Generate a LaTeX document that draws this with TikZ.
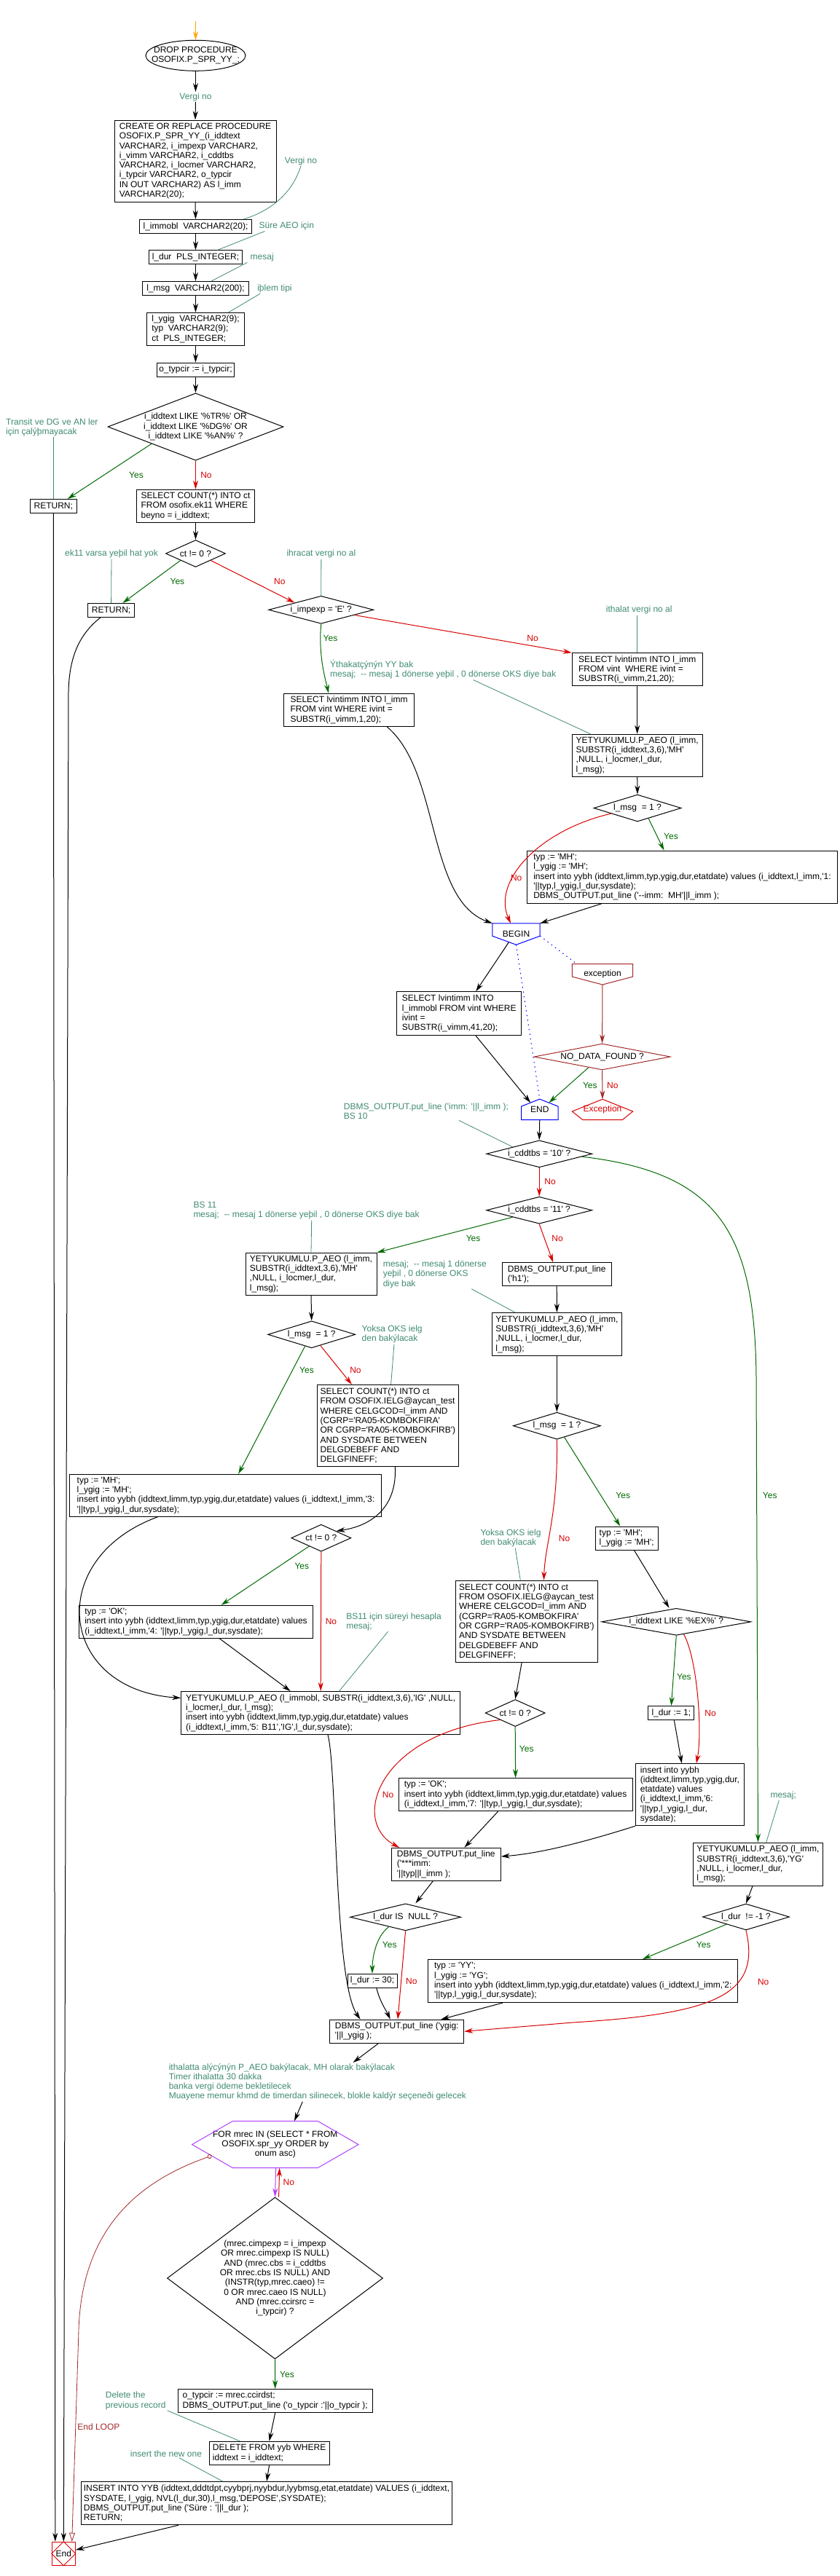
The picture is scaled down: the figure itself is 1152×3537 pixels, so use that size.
\documentclass[tikz,border=0pt]{standalone}
\usepackage{fontspec}
\setmainfont{Liberation Sans}[Ligatures=TeXOff]
\usepackage{xcolor}
\usepackage{tikz}
\usetikzlibrary{shapes,arrows.meta,calc}

\definecolor{cmt}{RGB}{64,140,112}
\definecolor{yesc}{RGB}{0,105,0}
\definecolor{noc}{RGB}{215,0,0}
\definecolor{exc}{RGB}{165,42,42}
\definecolor{loopc}{RGB}{176,64,255}
\definecolor{startc}{RGB}{255,165,0}

\begin{document}
\begin{tikzpicture}[
    x=1pt, y=-1pt,
    font=\fontsize{12pt}{13.3pt}\selectfont,
    box/.style={rectangle, draw, line width=1pt, align=left, inner sep=3pt},
    dec/.style={diamond, draw, line width=1pt, align=center, inner sep=0pt},
    note/.style={text=cmt, align=left, inner sep=1pt},
    yeslbl/.style={text=yesc, inner sep=0pt},
    nolbl/.style={text=noc, inner sep=0pt},
    arrow/.style={-{Stealth[length=12pt,width=7pt]}, line width=1pt},
    yesarrow/.style={arrow, draw=yesc},
    noarrow/.style={arrow, draw=noc},
    link/.style={draw=cmt, line width=0.8pt},
    dots/.style={draw=blue, line width=1pt, dash pattern=on 1.5pt off 5pt}
]
    \fill [white] (0,0) rectangle (1152,3537);
    \useasboundingbox (0,0) rectangle (1152,3537);

    \coordinate (s0) at (268.5,28.6);
    \node [align=center, inner sep=0pt, minimum width=137pt, minimum height=42pt] (n0) at (268.5,76.3) {DROP PROCEDURE\\OSOFIX.P\_SPR\_YY\_;};
    \draw [line width=1pt] (n0.center) ellipse [x radius=68.5, y radius=21];
    \node [note, align=center] (c1) at (268.5,133) {Vergi no};
    \node [box, minimum width=222pt, minimum height=112pt] (n1) at (268,221) {CREATE OR REPLACE PROCEDURE\\OSOFIX.P\_SPR\_YY\_(i\_iddtext\\VARCHAR2, i\_impexp VARCHAR2,\\i\_vimm VARCHAR2, i\_cddtbs\\VARCHAR2, i\_locmer VARCHAR2,\\i\_typcir VARCHAR2, o\_typcir\\IN OUT VARCHAR2) AS l\_imm\\VARCHAR2(20);};
    \node [box, minimum width=154pt, minimum height=19pt] (n2) at (268.5,311) {l\_immobl\ \ VARCHAR2(20);};
    \node [box, minimum width=128pt, minimum height=19pt] (n3) at (268.5,353.3) {l\_dur\ \ PLS\_INTEGER;};
    \node [box, minimum width=146pt, minimum height=19pt] (n4) at (268.5,396) {l\_msg\ \ VARCHAR2(200);};
    \node [box, minimum width=134pt, minimum height=45pt] (n5) at (268.5,451.8) {l\_ygig\ \ VARCHAR2(9);\\typ\ \ VARCHAR2(9);\\ct\ \ PLS\_INTEGER;};
    \node [box, minimum width=106pt, minimum height=19pt] (n6) at (268.5,507.7) {o\_typcir := i\_typcir;};
    \node [dec, aspect=2.61, minimum width=240pt, minimum height=92pt] (n7) at (268.5,586) {i\_iddtext LIKE '\%TR\%' OR\\i\_iddtext LIKE '\%DG\%' OR\\i\_iddtext LIKE '\%AN\%' ?};
    \node [box, minimum width=64pt, minimum height=19pt] (n8) at (73.3,695) {RETURN;};
    \node [box, minimum width=162pt, minimum height=45pt] (n9) at (268.5,694.8) {SELECT COUNT(*) INTO ct\\FROM osofix.ek11 WHERE\\beyno = i\_iddtext;};
    \node [dec, aspect=2.2, minimum width=82pt, minimum height=37pt] (n10) at (268.5,760) {ct != 0 ?};
    \node [box, minimum width=64pt, minimum height=19pt] (n11) at (152.6,838) {RETURN;};
    \node [dec, aspect=3.79, minimum width=144pt, minimum height=38pt] (n12) at (440.7,837.3) {i\_impexp = 'E' ?};
    \node [box, minimum width=179pt, minimum height=45pt] (n13) at (874.7,919.2) {SELECT lvintimm INTO l\_imm\\FROM vint\ \ WHERE ivint =\\SUBSTR(i\_vimm,21,20);};
    \node [box, minimum width=179pt, minimum height=45pt] (n14) at (479.1,974.8) {SELECT lvintimm INTO l\_imm\\FROM vint WHERE ivint =\\SUBSTR(i\_vimm,1,20);};
    \node [box, minimum width=179pt, minimum height=58pt] (n15) at (874.7,1037.2) {YETYUKUMLU.P\_AEO (l\_imm,\\SUBSTR(i\_iddtext,3,6),'MH'\\,NULL, i\_locmer,l\_dur,\\l\_msg);};
    \node [dec, aspect=3.24, minimum width=120pt, minimum height=37pt] (n16) at (875,1109.5) {l\_msg\ \ = 1 ?};
    \node [box, minimum width=426pt, minimum height=72pt] (n17) at (936.5,1204.2) {typ := 'MH';\\l\_ygig := 'MH';\\insert into yybh (iddtext,limm,typ,ygig,dur,etatdate) values (i\_iddtext,l\_imm,'1:\\'||typ,l\_ygig,l\_dur,sysdate);\\DBMS\_OUTPUT.put\_line ('--imm:\ \ MH'||l\_imm );};
    \node [inner sep=0pt, minimum width=65pt, minimum height=29pt] (n18) at (708.5,1282.5) {BEGIN};
    \draw [blue, line width=1pt] (n18.north west) -- (n18.north east) -- ($(n18.south east)+(0,-12)$) -- (n18.south) -- ($(n18.south west)+(0,-12)$) -- cycle;
    \node [box, minimum width=171pt, minimum height=60pt] (n19) at (630.2,1391.7) {SELECT lvintimm INTO\\l\_immobl FROM vint WHERE\\ivint =\\SUBSTR(i\_vimm,41,20);};
    \node [inner sep=0pt, minimum width=83pt, minimum height=28pt] (n20) at (827,1337.8) {exception};
    \draw [exc, line width=1pt] (n20.north west) -- (n20.north east) -- ($(n20.south east)+(0,-11)$) -- (n20.south) -- ($(n20.south west)+(0,-11)$) -- cycle;
    \node [dec, draw=exc, aspect=5.2, minimum width=187pt, minimum height=36pt] (n21) at (826.6,1451) {NO\_DATA\_FOUND ?};
    \node [inner sep=0pt, minimum width=50pt, minimum height=28pt] (n22) at (740.8,1523.3) {END};
    \draw [blue, line width=1pt] (n22.north) -- ($(n22.north east)+(0,10)$) -- (n22.south east) -- (n22.south west) -- ($(n22.north west)+(0,10)$) -- cycle;
    \node [inner sep=0pt, text=noc, minimum width=83pt, minimum height=28pt] (n23) at (827,1523.5) {Exception};
    \draw [noc, line width=1pt] (n23.north) -- ($(n23.north east)+(0,16.7)$) -- ($(n23.south east)+(-14.5,0)$) -- ($(n23.south west)+(14.7,0)$) -- ($(n23.north west)+(0,16.7)$) -- cycle;
    \node [dec, aspect=3.92, minimum width=145pt, minimum height=37pt] (n24) at (740.2,1584.3) {i\_cddtbs = '10' ?};
    \node [dec, aspect=3.92, minimum width=145pt, minimum height=37pt] (n25) at (740.2,1661.7) {i\_cddtbs = '11' ?};
    \node [box, minimum width=180pt, minimum height=58pt] (n26) at (427,1749.2) {YETYUKUMLU.P\_AEO (l\_imm,\\SUBSTR(i\_iddtext,3,6),'MH'\\,NULL, i\_locmer,l\_dur,\\l\_msg);};
    \node [box, minimum width=150pt, minimum height=32pt] (n27) at (764.2,1749.7) {DBMS\_OUTPUT.put\_line\\('h1');};
    \node [box, minimum width=178pt, minimum height=59pt] (n28) at (764.4,1832) {YETYUKUMLU.P\_AEO (l\_imm,\\SUBSTR(i\_iddtext,3,6),'MH'\\,NULL, i\_locmer,l\_dur,\\l\_msg);};
    \node [dec, aspect=3.24, minimum width=120pt, minimum height=37pt] (n29) at (427.7,1832.3) {l\_msg\ \ = 1 ?};
    \node [box, minimum width=194pt, minimum height=112pt] (n30) at (532.4,1957.5) {SELECT COUNT(*) INTO ct\\FROM OSOFIX.IELG@aycan\_test\\WHERE CELGCOD=l\_imm AND\\(CGRP='RA05-KOMBOKFIRA'\\OR CGRP='RA05-KOMBOKFIRB')\\AND SYSDATE BETWEEN\\DELGDEBEFF AND\\DELGFINEFF;};
    \node [dec, aspect=3.24, minimum width=120pt, minimum height=37pt] (n31) at (764.4,1957.7) {l\_msg\ \ = 1 ?};
    \node [box, minimum width=428pt, minimum height=58pt] (n32) at (309.9,2053.3) {typ := 'MH';\\l\_ygig := 'MH';\\insert into yybh (iddtext,limm,typ,ygig,dur,etatdate) values (i\_iddtext,l\_imm,'3:\\'||typ,l\_ygig,l\_dur,sysdate);};
    \node [dec, aspect=2.2, minimum width=82pt, minimum height=37pt] (n33) at (440.8,2111.7) {ct != 0 ?};
    \node [box, minimum width=86pt, minimum height=32pt] (n34) at (860.2,2112.1) {typ := 'MH';\\l\_ygig := 'MH';};
    \node [box, minimum width=195pt, minimum height=112pt] (n35) at (722.9,2226.2) {SELECT COUNT(*) INTO ct\\FROM OSOFIX.IELG@aycan\_test\\WHERE CELGCOD=l\_imm AND\\(CGRP='RA05-KOMBOKFIRA'\\OR CGRP='RA05-KOMBOKFIRB')\\AND SYSDATE BETWEEN\\DELGDEBEFF AND\\DELGFINEFF;};
    \node [dec, aspect=5.54, minimum width=205pt, minimum height=37pt] (n36) at (928.3,2226.8) {i\_iddtext LIKE '\%EX\%' ?};
    \node [box, minimum width=321pt, minimum height=45pt] (n37) at (269,2226.8) {typ := 'OK';\\insert into yybh (iddtext,limm,typ,ygig,dur,etatdate) values\\(i\_iddtext,l\_imm,'4: '||typ,l\_ygig,l\_dur,sysdate);};
    \node [box, minimum width=383pt, minimum height=59pt] (n38) at (440.2,2352) {YETYUKUMLU.P\_AEO (l\_immobl, SUBSTR(i\_iddtext,3,6),'IG' ,NULL,\\i\_locmer,l\_dur, l\_msg);\\insert into yybh (iddtext,limm,typ,ygig,dur,etatdate) values\\(i\_iddtext,l\_imm,'5: B11','IG',l\_dur,sysdate);};
    \node [dec, aspect=2.2, minimum width=82pt, minimum height=37pt] (n39) at (707.2,2352) {ct != 0 ?};
    \node [box, minimum width=63pt, minimum height=19pt] (n40) at (921.4,2352.2) {l\_dur := 1;};
    \node [box, minimum width=149pt, minimum height=85pt] (n41) at (947,2464.2) {insert into yybh\\(iddtext,limm,typ,ygig,dur,\\etatdate) values\\(i\_iddtext,l\_imm,'6:\\'||typ,l\_ygig,l\_dur,\\sysdate);};
    \node [box, minimum width=321pt, minimum height=45pt] (n42) at (707.6,2464.2) {typ := 'OK';\\insert into yybh (iddtext,limm,typ,ygig,dur,etatdate) values\\(i\_iddtext,l\_imm,'7: '||typ,l\_ygig,l\_dur,sysdate);};
    \node [box, minimum width=178pt, minimum height=59pt] (n43) at (1040.5,2559.7) {YETYUKUMLU.P\_AEO (l\_imm,\\SUBSTR(i\_iddtext,3,6),'YG'\\,NULL, i\_locmer,l\_dur,\\l\_msg);};
    \node [box, minimum width=150pt, minimum height=45pt] (n44) at (612.3,2559.8) {DBMS\_OUTPUT.put\_line\\('***imm:\\'||typ||l\_imm );};
    \node [dec, aspect=3.3, minimum width=119pt, minimum height=36pt] (n45) at (1024,2632) {l\_dur\ \ != -1 ?};
    \node [dec, aspect=4.1, minimum width=152pt, minimum height=37pt] (n46) at (556.6,2632.3) {l\_dur IS\ \ NULL ?};
    \node [box, minimum width=425pt, minimum height=59pt] (n47) at (800.3,2720) {typ := 'YY';\\l\_ygig := 'YG';\\insert into yybh (iddtext,limm,typ,ygig,dur,etatdate) values (i\_iddtext,l\_imm,'2:\\'||typ,l\_ygig,l\_dur,sysdate);};
    \node [box, minimum width=68pt, minimum height=19pt] (n48) at (511,2719.7) {l\_dur := 30;};
    \node [box, minimum width=184pt, minimum height=32pt] (n49) at (544.7,2789.2) {DBMS\_OUTPUT.put\_line ('ygig:\\'||l\_ygig );};
    \node [note, anchor=north west] (c18) at (230.6,2832) {ithalatta alýcýnýn P\_AEO bakýlacak, MH olarak bakýlacak\\Timer ithalatta 30 dakka\\banka vergi ödeme bekletilecek\\Muayene memur khmd de timerdan silinecek, blokle kaldýr seçeneði gelecek};
    \node [align=center, inner sep=0pt, minimum width=228pt, minimum height=64pt] (n51) at (377.8,2944.5) {FOR mrec IN (SELECT * FROM\\OSOFIX.spr\_yy ORDER by\\onum asc)};
    \draw [loopc, line width=1pt] (n51.west) -- ($(n51.north west)+(56,0)$) -- ($(n51.north east)+(-56,0)$) -- (n51.east) -- ($(n51.south east)+(-56,0)$) -- ($(n51.south west)+(56,0)$) -- cycle;
    \node [dec, aspect=1.333, minimum width=296pt, minimum height=222pt] (n52) at (377.5,3128) {(mrec.cimpexp = i\_impexp\\OR mrec.cimpexp IS NULL)\\AND (mrec.cbs = i\_cddtbs\\OR mrec.cbs IS NULL) AND\\(INSTR(typ,mrec.caeo) !=\\0 OR mrec.caeo IS NULL)\\AND (mrec.ccirsrc =\\i\_typcir) ?};
    \node [box, minimum width=267pt, minimum height=32pt] (n53) at (377.7,3296.5) {o\_typcir := mrec.ccirdst;\\DBMS\_OUTPUT.put\_line ('o\_typcir :'||o\_typcir );};
    \node [box, minimum width=165pt, minimum height=32pt] (n54) at (369.6,3368.3) {DELETE FROM yyb WHERE\\iddtext = i\_iddtext;};
    \node [box, minimum width=509pt, minimum height=59pt] (n55) at (366,3437.2) {INSERT INTO YYB (iddtext,dddtdpt,cyybprj,nyybdur,lyybmsg,etat,etatdate) VALUES (i\_iddtext,\\SYSDATE, l\_ygig, NVL(l\_dur,30),l\_msg,'DEPOSE',SYSDATE);\\DBMS\_OUTPUT.put\_line ('Süre : '||l\_dur );\\RETURN;};
    \node [draw=noc, line width=1pt, inner sep=0pt, minimum width=32pt, minimum height=32pt] (n56) at (87.3,3506.2) {End};
    \draw [noc, line width=0.8pt] (n56.north) -- (n56.east) -- (n56.south) -- (n56.west) -- cycle;

    \node [note, align=center] (c2) at (413,221) {Vergi no};
    \node [note, align=center] (c3) at (393.4,310.7) {Süre AEO için};
    \node [note, align=center] (c4) at (359.7,353.6) {mesaj};
    \node [note, align=center] (c5) at (377,396.4) {iþlem tipi};
    \node [note, anchor=west] (c6) at (7,587) {Transit ve DG ve AN ler\\için çalýþmayacak};
    \node [note, align=center] (c7) at (153,760.7) {ek11 varsa yeþil hat yok};
    \node [note, align=center] (c8) at (440.9,760.7) {ihracat vergi no al};
    \node [note, anchor=west] (c9) at (452,919.2) {Ýthakatçýnýn YY bak\\mesaj;\ \ -- mesaj 1 dönerse yeþil , 0 dönerse OKS diye bak};
    \node [note, align=center] (c10) at (877.2,837.7) {ithalat vergi no al};
    \node [note, anchor=west] (c11) at (470.7,1526) {DBMS\_OUTPUT.put\_line ('imm: '||l\_imm );\\BS 10};
    \node [note, anchor=west] (c12) at (264.3,1662) {BS 11\\mesaj;\ \ -- mesaj 1 dönerse yeþil , 0 dönerse OKS diye bak};
    \node [note, anchor=west] (c13) at (524.6,1749.7) {mesaj;\ \ -- mesaj 1 dönerse\\yeþil , 0 dönerse OKS\\diye bak};
    \node [note, anchor=west] (c14) at (495.5,1832.2) {Yoksa OKS ielg\\den bakýlacak};
    \node [note, anchor=west] (c15) at (658.3,2112.2) {Yoksa OKS ielg\\den bakýlacak};
    \node [note, anchor=west] (c16) at (474.1,2226.7) {BS11 için süreyi hesapla\\mesaj;};
    \node [note, align=center] (c17) at (1075.2,2465) {mesaj;};
    \node [note, anchor=west] (c19) at (143.7,3296.3) {Delete the\\previous record};
    \node [note, anchor=west] (c20) at (177.7,3369) {insert the new one};

    \node [yeslbl] (y1) at (187,652.7) {Yes};
    \node [nolbl] (r1) at (283,652.7) {No};
    \node [yeslbl] (y2) at (243.4,798.3) {Yes};
    \node [nolbl] (r2) at (383.9,798.3) {No};
    \node [yeslbl] (y3) at (453.5,876.7) {Yes};
    \node [nolbl] (r3) at (731,876.7) {No};
    \node [yeslbl] (y4) at (921,1148.3) {Yes};
    \node [nolbl] (r4) at (708.7,1205) {No};
    \node [yeslbl] (y5) at (809.8,1490) {Yes};
    \node [nolbl] (r5) at (840.8,1490) {No};
    \node [nolbl] (r6) at (755,1622.7) {No};
    \node [yeslbl] (y6) at (1056.7,2053.2) {Yes};
    \node [yeslbl] (y7) at (649.6,1700.7) {Yes};
    \node [nolbl] (r7) at (765,1700.7) {No};
    \node [yeslbl] (y8) at (421,1881.7) {Yes};
    \node [nolbl] (r8) at (488,1881.7) {No};
    \node [yeslbl] (y9) at (855.2,2053.2) {Yes};
    \node [nolbl] (r9) at (774.6,2112.9) {No};
    \node [yeslbl] (y10) at (414.3,2150.7) {Yes};
    \node [nolbl] (r10) at (454.5,2226.7) {No};
    \node [yeslbl] (y11) at (938.9,2302.7) {Yes};
    \node [nolbl] (r11) at (975,2352.7) {No};
    \node [yeslbl] (y12) at (722.7,2401.7) {Yes};
    \node [nolbl] (r12) at (532.6,2464.3) {No};
    \node [yeslbl] (y13) at (965.7,2670.7) {Yes};
    \node [nolbl] (r13) at (1047.7,2721) {No};
    \node [yeslbl] (y14) at (534.7,2670.7) {Yes};
    \node [nolbl] (r14) at (564.8,2720.7) {No};
    \node [nolbl] (r15) at (396.4,2996.7) {No};
    \node [yeslbl] (y15) at (394,3260.7) {Yes};
    \node [text=exc, inner sep=0pt] (l1) at (135.4,3332.3) {End LOOP};

    \draw [arrow, draw=startc] (s0) -- (n0.north);
    \draw [arrow] (n0.south) -- (c1.north);
    \draw [arrow] (c1.south) -- (n1.north);
    \draw [arrow] (n1.south) -- (n2.north);
    \draw [arrow] (n2.south) -- (n3.north);
    \draw [arrow] (n3.south) -- (n4.north);
    \draw [arrow] (n4.south) -- (n5.north);
    \draw [arrow] (n5.south) -- (n6.north);
    \draw [arrow] (n6.south) -- (n7.north);
    \draw [link] (c2.south) .. controls (400,270) and (365,292) .. ($(n2.north east)+(-12,0)$);
    \draw [link] ($(c3.south west)+(9,0)$) -- ($(n3.north east)+(-34.5,0)$);
    \draw [link] ($(c4.south west)+(-3,0)$) -- ($(n4.north)+(21.6,0)$);
    \draw [link] ($(c5.south west)+(5,0)$) -- ($(n5.north)+(45.3,0)$);

    \draw [yesarrow] (n7.south west) -- ($(n8.north east)+(-13,0)$);
    \draw [noarrow] (n7.south) -- (n9.north);
    \draw [link] (n8.north |- c6.south) -- (n8.north);
    \draw [arrow] (n9.south) -- (n10.north);
    \draw [yesarrow] (n10.south west) -- ($(n11.north)+(15.8,0)$);
    \draw [noarrow] (n10.south east) -- (n12.north west);
    \draw [link] (c7.south) -- (n11.north);
    \draw [link] (c8.south) -- (n12.north);
    \draw [yesarrow] (n12.south) .. controls (437,900) and (446,930) .. ($(n14.north)+(-28,0)$);
    \draw [noarrow] ($(n12.south)!0.63!(n12.east)$) -- (n13.north west);
    \draw [link] (n13.north |- c10.south) -- (n13.north);
    \draw [link] ($(c9.south west)+(197.5,0)$) -- ($(n15.north west)+(25.6,0)$);
    \draw [arrow] (n13.south) -- (n15.north);
    \draw [arrow] (n15.south) -- (n16.north);
    \draw [yesarrow] ($(n16.south)!0.25!(n16.east)$) -- ($(n17.north)+(-25,0)$);
    \draw [noarrow] ($(n16.south)!0.6!(n16.west)$) .. controls (740,1140) and (675,1210) .. ($(n18.north)+(-7.5,0)$);
    \draw [arrow] ($(n17.south)+(-110.5,0)$) -- (n18.north east);
    \draw [arrow] ($(n14.south)+(52,0)$) .. controls (605,1060) and (585,1235) .. (n18.north west);

    \coordinate (b1) at ($(n18.south east)+(0,-12)$);
    \draw [arrow] ($(n18.south)+(-10,-3.7)$) -- ($(n19.north)+(23,0)$);
    \draw [dots] (n18.south) -- (n22.north);
    \draw [dots] (b1) -- ($(n20.north west)+(6.5,0)$);
    \draw [arrow, draw=exc] (n20.south) -- (n21.north);
    \coordinate (e1) at ($(n22.north east)+(0,10)$);
    \coordinate (e2) at ($(n22.north west)+(0,10)$);
    \draw [yesarrow] ($(n21.south)!0.2!(n21.west)$) -- ($(n22.north)!0.5!(e1)$);
    \draw [arrow, draw=exc] (n21.south) -- (n23.north);
    \draw [arrow] ($(n19.south)+(23,0)$) -- ($(n22.north)!0.5!(e2)$);
    \draw [link] ($(c11.south west)+(159,0)$) -- (n24.north west);
    \draw [arrow] (n22.south) -- (n24.north);
    \draw [noarrow] (n24.south) -- (n25.north);
    \draw [yesarrow] ($(n24.east)!0.2!(n24.south)$) .. controls (985,1610) and (1036,1690) .. (1038,1890) -- (n43.north);

    \draw [yesarrow] ($(n25.south)!0.5!(n25.west)$) -- (n26.north east);
    \draw [noarrow] (n25.south) -- ($(n27.north)+(-5,0)$);
    \draw [link] ($(c12.south west)+(163.4,0)$) -- (n26.north);
    \draw [link] ($(c13.south west)+(122.7,0)$) -- ($(n28.north west)+(32,0)$);
    \draw [arrow] (n27.south) -- (n28.north);
    \draw [arrow] (n28.south) -- (n31.north);
    \draw [arrow] (n26.south) -- (n29.north);
    \draw [yesarrow] ($(n29.south)!0.15!(n29.west)$) -- ($(n32.north)+(17.3,0)$);
    \draw [noarrow] ($(n29.south)!0.2!(n29.east)$) -- ($(n30.north west)+(48,0)$);
    \draw [link] ($(c14.south west)+(45.5,0)$) -- ($(n30.north)+(4.2,0)$);
    \draw [arrow] ($(n30.south)+(10,0)$) .. controls (545,2070) and (510,2095) .. (n33.north east);
    \draw [yesarrow] ($(n33.south)!0.4!(n33.west)$) -- ($(n37.north)+(34.6,0)$);
    \draw [noarrow] (n33.south) -- (n38.north);
    \draw [arrow] ($(n32.south)+(-93.4,0)$) .. controls (60,2140) and (80,2320) .. ($(n38.north west)+(0,9.4)$);
    \draw [arrow] ($(n37.south)+(32.3,0)$) -- ($(n38.north)+(-41.5,0)$);
    \draw [link] ($(c16.south west)+(58.5,0)$) -- ($(n38.north)+(25.4,0)$);

    \draw [yesarrow] ($(n31.south)!0.17!(n31.east)$) -- ($(n34.north)+(-8.9,0)$);
    \draw [noarrow] (n31.south) .. controls (766,2080) and (748,2120) .. ($(n35.north)+(23.6,0)$);
    \draw [link] ($(c15.south west)+(49,0)$) -- ($(n35.north)+(-8.6,0)$);
    \draw [arrow] ($(n34.south)+(10.3,0)$) -- ($(n36.north)+(-9.8,0)$);
    \draw [arrow] ($(n35.south)+(-6.7,0)$) -- (n39.north);
    \draw [yesarrow] (n39.south) -- (n42.north);
    \draw [noarrow] ($(n39.south)!0.5!(n39.west)$) .. controls (520,2380) and (480,2500) .. ($(n44.north west)+(11.3,0)$);
    \draw [yesarrow] (n36.south) -- (n40.north);
    \draw [noarrow] ($(n36.south)!0.1!(n36.east)$) .. controls (958,2280) and (964,2380) .. ($(n41.north)+(8.8,0)$);
    \draw [arrow] ($(n40.south)+(4,0)$) -- ($(n41.north)+(-11.2,0)$);
    \draw [arrow] (n41.south west) .. controls (800,2530) and (740,2545) .. ($(n44.east)+(0,-10.8)$);
    \draw [arrow] ($(n42.south)+(-24,0)$) -- ($(n44.north)+(25.2,0)$);
    \draw [link] ($(c17.south west)+(13,0)$) -- ($(n43.north)+(11.2,0)$);
    \draw [arrow] ($(n43.south)+(-7.5,0)$) -- (n45.north);
    \draw [yesarrow] ($(n45.south)!0.45!(n45.west)$) -- ($(n47.north)+(81.7,0)$);
    \draw [noarrow] (n45.south) .. controls (1045,2740) and (980,2765) .. (786,2777) -- (n49.east);
    \draw [arrow] ($(n44.south)+(-18,0)$) -- ($(n46.north)+(13.8,0)$);
    \draw [yesarrow] ($(n46.south)!0.3!(n46.west)$) .. controls (515,2660) and (511,2690) .. (n48.north);
    \draw [noarrow] (n46.south) -- ($(n49.north)+(1.3,0)$);
    \draw [arrow] ($(n48.south)+(5.8,0)$) .. controls (522,2750) and (530,2760) .. ($(n49.north)+(-9,0)$);
    \draw [arrow] ($(n47.south)+(-110.3,0)$) -- ($(n49.north)+(60.6,0)$);
    \draw [arrow] ($(n38.south)+(9.8,0)$) .. controls (463,2430) and (458,2720) .. ($(n49.north west)+(42.4,0)$);
    \draw [arrow] ($(n49.south)+(-25.3,0)$) -- ($(c18.north)+(48.7,0)$);
    \draw [arrow] ($(c18.south)+(-20.6,0)$) -- ($(n51.north)+(26.2,0)$);

    \draw [arrow, draw=loopc] ($(n51.south)+(0.8,0)$) -- (n52.north);
    \draw [noarrow] ($(n52.north)+(5.1,0)$) -- ($(n51.south)+(5.9,0)$);
    \draw [yesarrow] (n52.south) -- (n53.north);
    \draw [arrow] (n53.south) -- (n54.north);
    \draw [arrow] (n54.south) -- (n55.north);
    \draw [link] ($(c19.south west)+(85.9,0)$) -- ($(n54.north west)+(42.7,0)$);
    \draw [link] ($(c20.south west)+(67.9,0)$) -- ($(n55.north west)+(195,0)$);
    \draw [arrow] ($(n55.south west)+(134,0)$) -- ($(n56.east)+(0,-5)$);
    \coordinate (h1) at ($(n51.south west)+(56,0)$);
    \draw [{Circle[open,length=6pt]}-{Triangle[open,length=12pt,width=8pt]}, draw=exc, line width=0.8pt] ($(n51.west)!0.48!(h1)$) .. controls (190,2995) and (112,3060) .. (108,3200) -- ($(n56.north)+(11.4,0)$);
    \draw [arrow] (n8.south) -- ($(n56.north)+(-11.5,0)$);
    \draw [arrow] ($(n11.south)+(-14.8,0)$) .. controls (110,870) and (95,900) .. (94,950) -- (n56.north);
\end{tikzpicture}
\end{document}
